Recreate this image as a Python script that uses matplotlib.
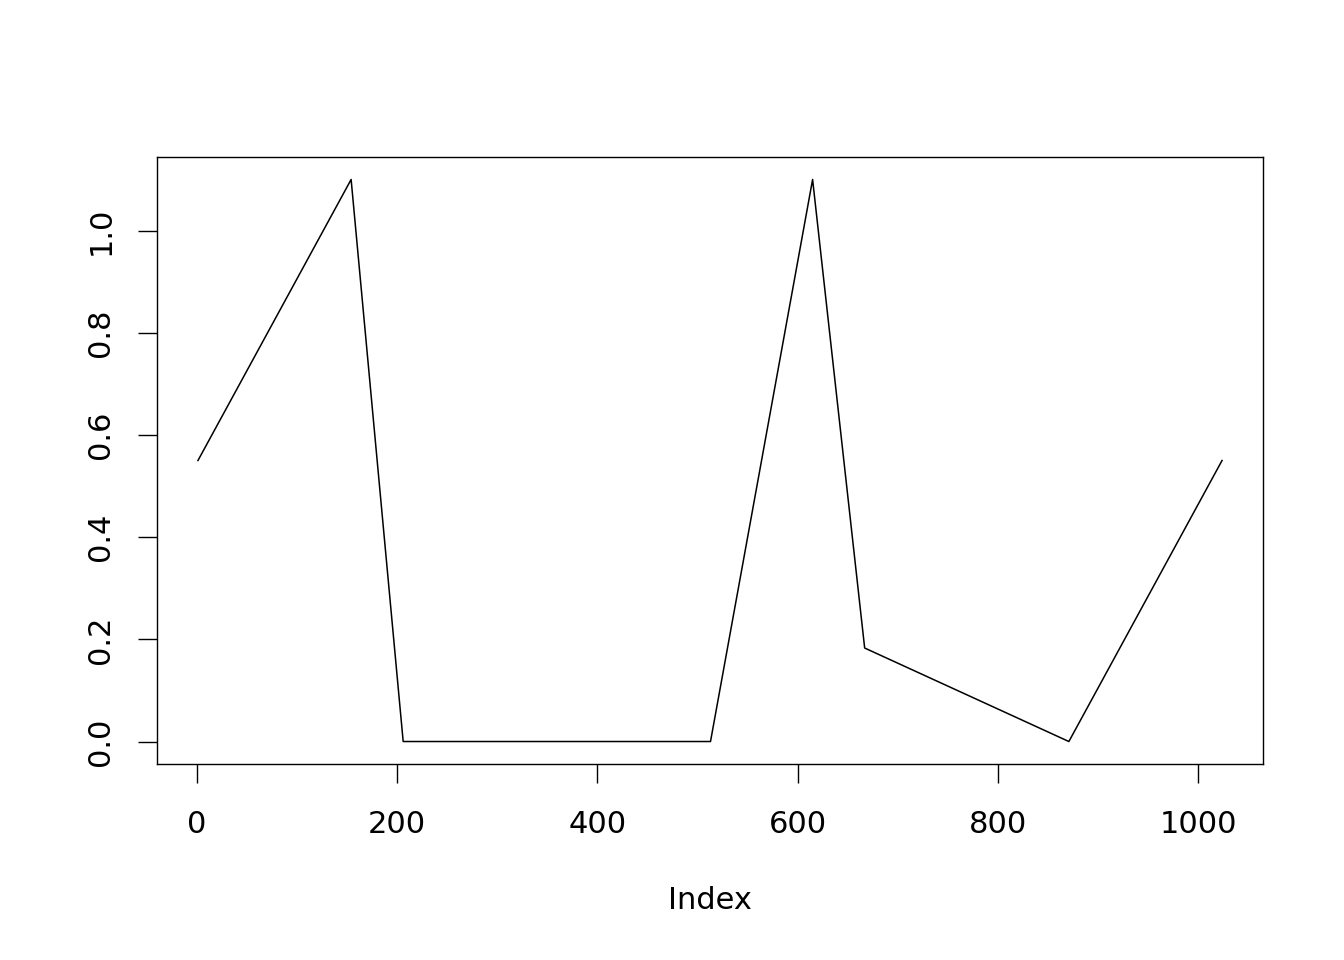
import numpy as np
import matplotlib
matplotlib.use('Agg')
import matplotlib.pyplot as plt

plt.rcParams['font.family'] = 'DejaVu Sans'

# corner points of the series (index, value)
idx = [1, 154, 206, 513, 615, 667, 871, 1024]
vals = [0.55, 1.1, 0.0, 0.0, 1.1, 0.183, 0.0, 0.55]

x_ticks = [0, 200, 400, 600, 800, 1000]
y_ticks = [0.0, 0.2, 0.4, 0.6, 0.8, 1.0]

fig = plt.figure(figsize=(13.44, 9.6), dpi=100)
ax = fig.add_axes([157/1344, 1 - 764/960, (1263-157)/1344, (764-157)/960])
ax.plot(idx, vals, color='black', lw=1.1)

# R style 4% padding of the range
xr = 1024 - 1
ax.set_xlim(1 - 0.04*xr, 1024 + 0.04*xr)
ax.set_ylim(-0.044, 1.1 + 0.044)

ax.set_xticks(x_ticks)
ax.set_xticklabels([str(t) for t in x_ticks])
ax.set_yticks(y_ticks)
ax.set_yticklabels(['%.1f' % t for t in y_ticks], rotation=90, va='center')
ax.tick_params(direction='out', length=14, width=1.0, labelsize=22)
ax.tick_params(axis='x', pad=19)
ax.tick_params(axis='y', pad=16)
for s in ax.spines.values():
    s.set_linewidth(1.0)

ax.set_xlabel('Index', fontsize=22, labelpad=34)

fig.savefig('out.png', dpi=100)
